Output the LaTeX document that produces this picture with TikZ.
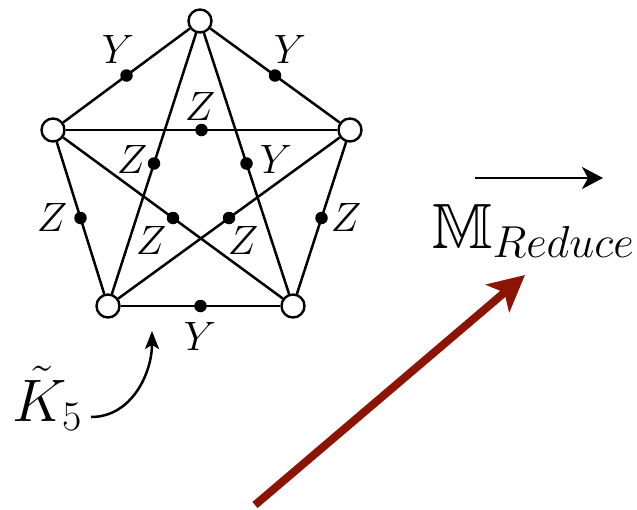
\RequirePackage{fix-cm}
\documentclass[tikz,border=0pt]{standalone}
\usepackage{amssymb}
\usetikzlibrary{arrows.meta}
\definecolor{darkred}{RGB}{140,20,5}
\tikzset{
 vtx/.style={circle, draw, fill=white, line width=2.4pt, minimum size=23pt, inner sep=0pt},
 dot/.style={circle, fill=black, minimum size=12.5pt, inner sep=0pt, pos=0.5},
 edge/.style={line width=2.5pt},
 lab/.style={inner sep=0pt, font=\fontsize{41}{46}\selectfont},
 biglab/.style={inner sep=0pt, anchor=base west},
}
\begin{document}
\begin{tikzpicture}[x=1pt,y=-1pt]
\useasboundingbox (0,0) rectangle (637,509);
% vertices
\node[vtx] (t)  at (200,21) {};
\node[vtx] (l)  at (53,130) {};
\node[vtx] (r)  at (350,130) {};
\node[vtx] (bl) at (108,306) {};
\node[vtx] (br) at (293,306) {};
% edges with midpoints
\draw[edge] (t) -- node[dot] (d1) {} (l);
\draw[edge] (t) -- node[dot] (d2) {} (r);
\draw[edge] (l) -- node[dot] (d3) {} (r);
\draw[edge] (t) -- node[dot] (d4) {} (bl);
\draw[edge] (t) -- node[dot] (d5) {} (br);
\draw[edge] (l) -- node[dot] (d6) {} (br);
\draw[edge] (r) -- node[dot] (d7) {} (bl);
\draw[edge] (l) -- node[dot] (d8) {} (bl);
\draw[edge] (r) -- node[dot] (d9) {} (br);
\draw[edge] (bl) -- node[dot] (d10) {} (br);
% labels
\node[lab] (y1) at (118,49) {$Y$};
\node[lab] (y2) at (290,49) {$Y$};
\node[lab] (z1) at (200,106) {$Z$};
\node[lab] (z2) at (132,159) {$Z$};
\node[lab] (y3) at (276,159) {$Y$};
\node[lab] (z3) at (52,217) {$Z$};
\node[lab] (z4) at (346,217) {$Z$};
\node[lab] (z5) at (151,240) {$Z$};
\node[lab] (z6) at (243,240) {$Z$};
\node[lab] (y4) at (200,336) {$Y$};
% K5 label and curved arrow
\node[biglab, font=\fontsize{60}{66}\selectfont] (k) at (12,421) {$\tilde{K}_5$};
\coordinate (kst) at (91,417);
\coordinate (ktip) at (152,331);
\draw[line width=2.5pt, -{Stealth[length=18pt,width=14pt,inset=4pt]}] (kst) to[out=0,in=-90] (ktip);
% reduce arrow and label
\coordinate (as) at (475,178);
\coordinate (ae) at (603,178);
\draw[line width=2.5pt, -{Stealth[length=21pt,width=22pt,inset=6pt]}] (as) -- (ae);
\node[biglab, font=\fontsize{64}{70}\selectfont] (m) at (432,248) {$\mathbb{M}_{Reduce}$};
% red arrow
\coordinate (rs) at (255,505);
\coordinate (re) at (525,275);
\draw[darkred, line width=8pt, -{Stealth[length=36pt,width=36pt,inset=9pt]}] (rs) -- (re);
\end{tikzpicture}
\end{document}
